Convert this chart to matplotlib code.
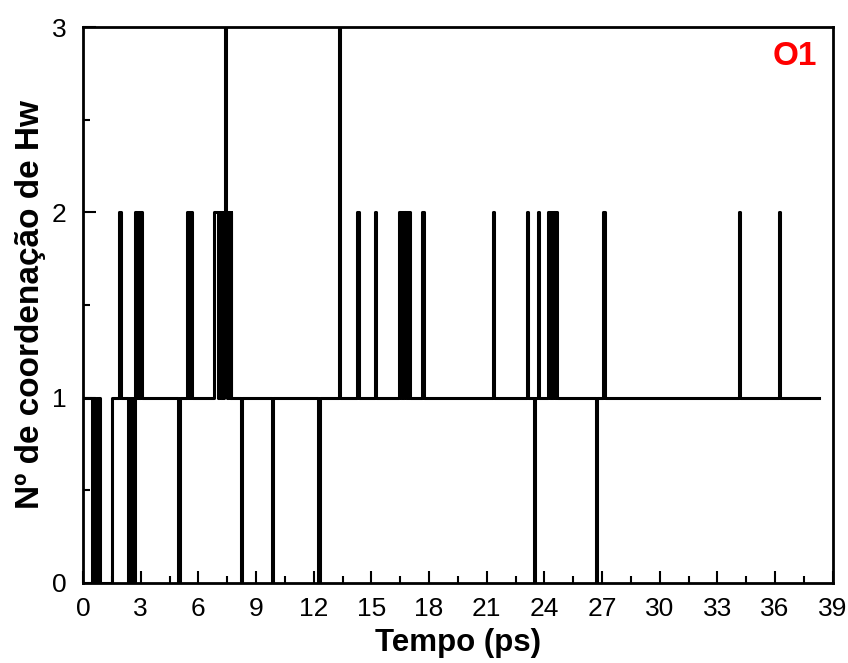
import numpy as np
import matplotlib
matplotlib.use("Agg")
import matplotlib.pyplot as plt
from matplotlib.ticker import MultipleLocator

# tempo (ps) onde muda o numero de coordenacao, e o valor a partir dai
tempo = [0.0, 0.45, 0.52, 0.58, 0.65, 0.72, 0.8, 0.86, 1.5,
         1.88, 1.95, 2.35, 2.42, 2.48, 2.55, 2.6, 2.68,
         2.72, 2.8, 2.86, 2.93, 2.98, 3.05,
         4.95, 5.02, 5.38, 5.45, 5.5, 5.57, 5.6, 5.66,
         6.8, 7.03, 7.09, 7.15, 7.21, 7.27, 7.33, 7.4, 7.44, 7.5, 7.56, 7.62,
         7.68, 7.72, 7.76,
         8.2, 8.25, 9.85, 9.9, 12.24, 12.3, 13.33, 13.38,
         14.27, 14.33, 15.2, 15.26,
         16.45, 16.52, 16.58, 16.65, 16.71, 16.78, 16.84, 16.9, 16.95, 17.0,
         17.65, 17.72, 21.35, 21.4, 23.07, 23.13, 23.44, 23.5, 23.65, 23.72,
         24.2, 24.27, 24.33, 24.4, 24.46, 24.53, 24.59, 24.66,
         26.7, 26.76, 27.07, 27.13, 34.1, 34.16, 36.2, 36.26, 38.3]
coord = [1, 0, 1, 0, 1, 0, 1, 0, 1,
         2, 1, 0, 1, 0, 1, 0, 1,
         2, 1, 2, 1, 2, 1,
         0, 1, 2, 1, 2, 1, 2, 1,
         2, 1, 2, 1, 2, 1, 2, 3, 2, 1, 2, 1,
         2, 1, 1,
         0, 1, 0, 1, 0, 1, 3, 1,
         2, 1, 2, 1,
         2, 1, 2, 1, 2, 1, 2, 1, 2, 1,
         2, 1, 2, 1, 2, 1, 0, 1, 2, 1,
         2, 1, 2, 1, 2, 1, 2, 1,
         0, 1, 2, 1, 2, 1, 2, 1, 1]

plt.rcParams['font.family'] = ['Liberation Sans', 'DejaVu Sans']

fig = plt.figure(figsize=(8.48, 6.63), dpi=100)
ax = fig.add_axes([0.098, 0.121, 0.884, 0.838])

ax.plot(tempo, coord, drawstyle='steps-post', color='black', lw=2.2)

ax.set_xlim(0, 39)
ax.set_ylim(0, 3)
ax.xaxis.set_major_locator(MultipleLocator(3))
ax.xaxis.set_minor_locator(MultipleLocator(1.5))
ax.yaxis.set_major_locator(MultipleLocator(1))
ax.yaxis.set_minor_locator(MultipleLocator(0.5))
ax.tick_params(which='both', direction='in', width=1.5, labelsize=19, top=False, right=False)
ax.tick_params(which='major', length=9)
ax.tick_params(which='minor', length=5)
ax.tick_params(axis='x', which='major', pad=10)
ax.tick_params(axis='y', which='major', pad=12)
for s in ax.spines.values():
    s.set_linewidth(2)

ax.set_xlabel('Tempo (ps)', fontsize=22.5, fontweight='bold', labelpad=5)
ax.set_ylabel('Nº de coordenação de Hw', fontsize=24, fontweight='bold', labelpad=4)
ax.text(0.979, 0.948, 'O1', transform=ax.transAxes, ha='right', va='center',
        color='red', fontsize=24, fontweight='bold')

fig.savefig('out.png', dpi=100)
